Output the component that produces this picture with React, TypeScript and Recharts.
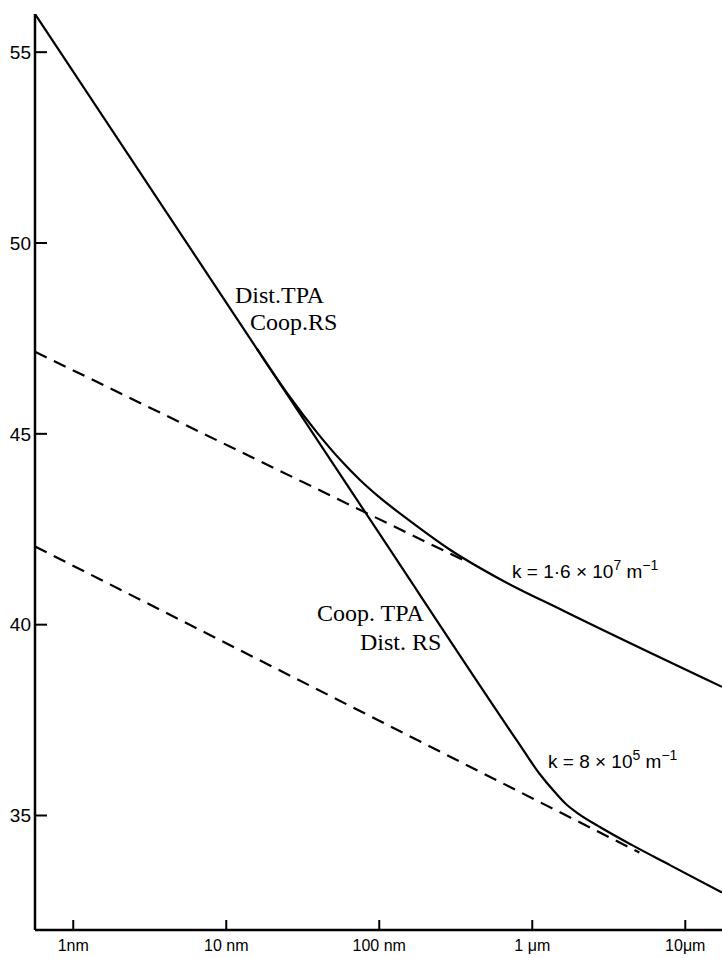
import { LineChart, Line, XAxis, YAxis } from "recharts";

// x is log10(length / nm); y is the plotted quantity
const xTicks = [0, 1, 2, 3, 4];
const xTickLabels = ["1nm", "10 nm", "100 nm", "1 μm", "10μm"];
const yTicks = [35, 40, 45, 50, 55];

// steep solid curve (Coop.TPA / Dist.RS branch), bending onto the lower dashed line
const steepX = [-0.25, 1.0, 2.0, 2.9, 3.05, 3.15, 3.22, 3.3, 3.45, 3.65, 3.9, 4.24];
const steepY = [56.0, 48.44, 42.39, 36.96, 36.08, 35.6, 35.3, 35.05, 34.68, 34.23, 33.7, 32.98];

// upper solid curve (Dist.TPA / Coop.RS branch), leaving the steep line
const upperX = [1.2, 1.4, 1.6, 1.75, 1.874, 2.0, 2.2, 2.46, 2.79, 3.2, 4.24];
const upperY = [47.23, 46.05, 45.0, 44.3, 43.79, 43.34, 42.72, 41.97, 41.19, 40.37, 38.37];

// dashed asymptotes
const dashHiX = [-0.25, 2.55];
const dashHiY = [47.15, 41.69];
const dashLoX = [-0.25, 3.7];
const dashLoY = [42.05, 34.03];

const pts = (xs: number[], ys: number[]) => xs.map((x, i) => ({ x, y: ys[i] }));

const sans = "'Liberation Sans', Arial, sans-serif";
const serif = "'Liberation Serif', 'Times New Roman', serif";

export default function App() {
  return (
    <div style={{ position: "absolute", left: 0, top: 0, width: 722, height: 958, background: "#fff" }}>
      <LineChart width={722} height={958} margin={{ top: 14, right: 0, left: 0, bottom: 0 }}>
        <XAxis
          dataKey="x"
          type="number"
          domain={[-0.25, 4.24]}
          allowDataOverflow
          ticks={xTicks}
          tickFormatter={(v) => xTickLabels[xTicks.indexOf(v)] ?? ""}
          height={28}
          tickSize={-10}
          tickMargin={20}
          axisLine={{ stroke: "#000", strokeWidth: 2.5 }}
          tickLine={{ stroke: "#000", strokeWidth: 2 }}
          tick={{ fill: "#000", fontSize: 16, fontFamily: sans }}
        />
        <YAxis
          dataKey="y"
          type="number"
          domain={[32, 56]}
          allowDataOverflow
          ticks={yTicks}
          width={35}
          tickSize={-12}
          tickMargin={16}
          axisLine={{ stroke: "#000", strokeWidth: 2.5 }}
          tickLine={{ stroke: "#000", strokeWidth: 2 }}
          tick={{ fill: "#000", fontSize: 19, fontFamily: sans }}
        />
        <Line data={pts(dashHiX, dashHiY)} dataKey="y" type="linear" stroke="#000" strokeWidth={2.2}
          strokeDasharray="13 8" dot={false} isAnimationActive={false} />
        <Line data={pts(dashLoX, dashLoY)} dataKey="y" type="linear" stroke="#000" strokeWidth={2.2}
          strokeDasharray="13 8" dot={false} isAnimationActive={false} />
        <Line data={pts(steepX, steepY)} dataKey="y" type="monotone" stroke="#000" strokeWidth={2.2}
          dot={false} isAnimationActive={false} />
        <Line data={pts(upperX, upperY)} dataKey="y" type="monotone" stroke="#000" strokeWidth={2.2}
          dot={false} isAnimationActive={false} />
      </LineChart>
      <svg width={722} height={958} style={{ position: "absolute", left: 0, top: 0, pointerEvents: "none" }}>
        <g fontFamily={serif} fontSize={24} fill="#000">
          <text x={235} y={303}>Dist.TPA</text>
          <text x={250} y={330}>Coop.RS</text>
          <text x={317} y={621}>Coop. TPA</text>
          <text x={360} y={650}>Dist. RS</text>
        </g>
        <g fontFamily={sans} fontSize={19} fill="#000">
          <text x={512} y={578}>
            k = 1·6 × 10<tspan dy={-8} fontSize={14}>7</tspan>
            <tspan dy={8}> m</tspan>
            <tspan dy={-8} fontSize={14}>−1</tspan>
          </text>
          <text x={548} y={768}>
            k = 8 × 10<tspan dy={-8} fontSize={14}>5</tspan>
            <tspan dy={8}> m</tspan>
            <tspan dy={-8} fontSize={14}>−1</tspan>
          </text>
        </g>
      </svg>
    </div>
  );
}
